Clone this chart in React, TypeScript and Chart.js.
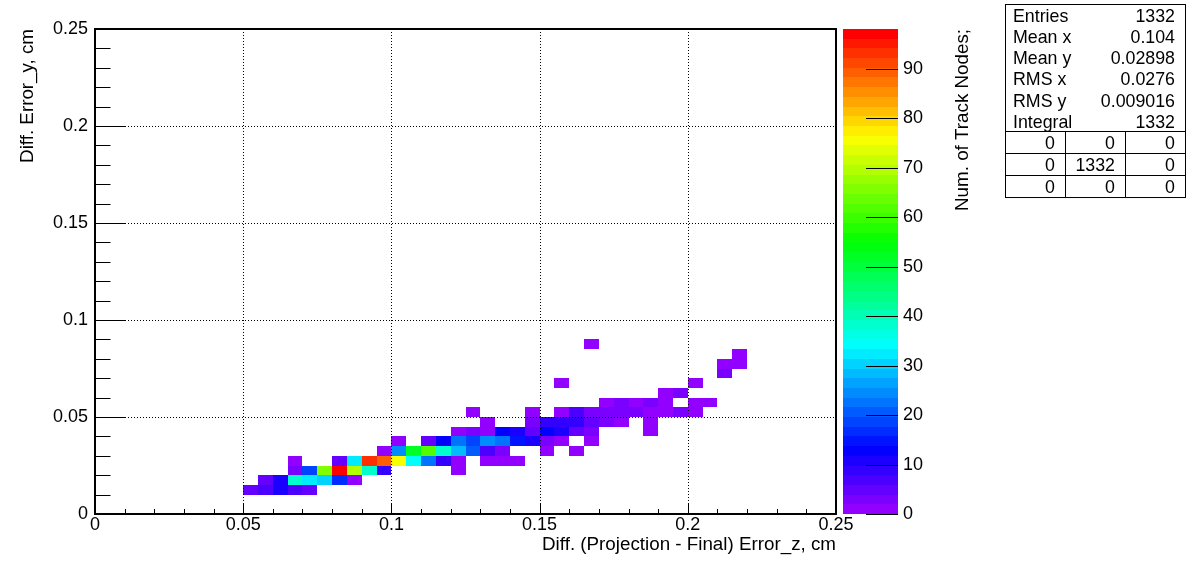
import React, { useEffect, useRef } from 'react';
import { Chart, registerables } from 'chart.js';

Chart.register(...registerables);

const W = 1196;
const H = 572;
const FONT = '"Liberation Sans", Arial, Helvetica, sans-serif';

// ---- histogram binning / axes ----
const binWidthX = 0.005;
const binWidthY = 0.005;
const xMin = 0;
const xMax = 0.25;
const yMin = 0;
const yMax = 0.25;
const xTicks = [0, 0.05, 0.1, 0.15, 0.2, 0.25];
const xTickLabels = ['0', '0.05', '0.1', '0.15', '0.2', '0.25'];
const yTicks = [0, 0.05, 0.1, 0.15, 0.2, 0.25];
const yTickLabels = ['0', '0.05', '0.1', '0.15', '0.2', '0.25'];
const minorStep = 0.01;
const zMax = 98;
const zTicks = [0, 10, 20, 30, 40, 50, 60, 70, 80, 90];
const zTickLabels = ['0', '10', '20', '30', '40', '50', '60', '70', '80', '90'];

const xTitle = 'Diff. (Projection - Final) Error_z, cm';
const yTitle = 'Diff. Error_y, cm';
const zTitle = 'Num. of Track Nodes;';

// ---- bin contents: one entry per y-bin row ----
const rowBins = [2, 3, 4, 5, 6, 7, 8, 9, 10, 11, 12, 13, 14, 15, 16, 17];
const rowStart = [10, 11, 13, 13, 19, 20, 24, 26, 25, 34, 38, 31, 42, 42, 43, 33];
const rowCounts = [
  [4, 7, 10, 7, 4],
  [4, 10, 38, 32, 30, 17, 1],
  [2, 18, 66, 98, 70, 38, 8, 0, 0, 0, 0, 1],
  [1, 0, 0, 4, 32, 93, 89, 75, 34, 22, 8, 1, 0, 1, 1, 1],
  [1, 24, 52, 62, 38, 28, 20, 7, 2, 0, 0, 1, 0, 1],
  [1, 0, 4, 13, 22, 19, 24, 22, 15, 11, 2, 1, 0, 1],
  [1, 2, 1, 13, 10, 5, 12, 10, 5, 2, 0, 0, 0, 1],
  [1, 0, 0, 2, 8, 8, 8, 4, 3, 1, 0, 1],
  [1, 0, 0, 0, 1, 0, 1, 6, 3, 2, 2, 2, 1, 1, 2, 1],
  [1, 2, 1, 2, 1, 0, 1, 1],
  [1, 2],
  [1, 0, 0, 0, 0, 0, 0, 0, 0, 1],
  [2],
  [1, 1],
  [1],
  [1],
];

// ---- stats box ----
const statsLabels = ['Entries', 'Mean x', 'Mean y', 'RMS x', 'RMS y', 'Integral'];
const statsValues = ['1332', '0.104', '0.02898', '0.0276', '0.009016', '1332'];
const statsTable = [
  ['0', '0', '0'],
  ['0', '1332', '0'],
  ['0', '0', '0'],
];

// ROOT "pretty" palette (violet -> red), HLS with l=0.5, s=1
function hlsToRgb(h: number, l: number, s: number): string {
  const rm2 = l <= 0.5 ? l * (1 + s) : l + s - l * s;
  const rm1 = 2 * l - rm2;
  const f = (hue: number) => {
    if (hue > 360) hue -= 360;
    if (hue < 0) hue += 360;
    if (hue < 60) return rm1 + (rm2 - rm1) * hue / 60;
    if (hue < 180) return rm2;
    if (hue < 240) return rm1 + (rm2 - rm1) * (240 - hue) / 60;
    return rm1;
  };
  const r = Math.round(f(h + 120) * 255);
  const g = Math.round(f(h) * 255);
  const b = Math.round(f(h - 120) * 255);
  return `rgb(${r},${g},${b})`;
}
const NCOL = 50;
const palette: string[] = [];
for (let k = 0; k < NCOL - 1; k++) palette.push(hlsToRgb(280 - (k + 1) * (280 / NCOL), 0.5, 1));
palette.push('rgb(255,0,0)');

function colorFor(z: number): string {
  let idx = Math.floor(0.01 + (z * NCOL) / zMax);
  if (idx > NCOL - 1) idx = NCOL - 1;
  if (idx < 0) idx = 0;
  return palette[idx];
}

const histPlugin = {
  id: 'hist2d',
  beforeDatasetsDraw(chart: any) {
    const { ctx, chartArea } = chart;
    const x = chart.scales.x;
    const y = chart.scales.y;
    ctx.save();
    // cells
    rowBins.forEach((j, r) => {
      const py0 = Math.round(y.getPixelForValue(j * binWidthY));
      const py1 = Math.round(y.getPixelForValue((j + 1) * binWidthY));
      rowCounts[r].forEach((c, k) => {
        if (c <= 0) return;
        const i = rowStart[r] + k;
        const px0 = Math.round(x.getPixelForValue(i * binWidthX));
        const px1 = Math.round(x.getPixelForValue((i + 1) * binWidthX));
        ctx.fillStyle = colorFor(c);
        ctx.fillRect(px0, py1, px1 - px0, py0 - py1);
      });
    });
    // dotted grid
    ctx.strokeStyle = '#000';
    ctx.lineWidth = 1;
    ctx.setLineDash([1, 2]);
    xTicks.slice(1, -1).forEach((v) => {
      const px = Math.round(x.getPixelForValue(v)) + 0.5;
      ctx.beginPath();
      ctx.moveTo(px, chartArea.top);
      ctx.lineTo(px, chartArea.bottom);
      ctx.stroke();
    });
    yTicks.slice(1, -1).forEach((v) => {
      const py = Math.round(y.getPixelForValue(v)) + 0.5;
      ctx.beginPath();
      ctx.moveTo(chartArea.left, py);
      ctx.lineTo(chartArea.right, py);
      ctx.stroke();
    });
    ctx.setLineDash([]);
    // tick marks (inside frame)
    const nMinor = Math.round((xMax - xMin) / minorStep);
    for (let m = 0; m <= nMinor; m++) {
      const v = xMin + m * minorStep;
      const major = m % 5 === 0;
      const px = Math.round(x.getPixelForValue(v)) + 0.5;
      ctx.beginPath();
      ctx.moveTo(px, chartArea.bottom);
      ctx.lineTo(px, chartArea.bottom - (major ? 10 : 5));
      ctx.stroke();
    }
    const nMinorY = Math.round((yMax - yMin) / minorStep);
    for (let m = 0; m <= nMinorY; m++) {
      const v = yMin + m * minorStep;
      const major = m % 5 === 0;
      const py = Math.round(y.getPixelForValue(v)) + 0.5;
      ctx.beginPath();
      ctx.moveTo(chartArea.left, py);
      ctx.lineTo(chartArea.left + (major ? 31 : 15.5), py);
      ctx.stroke();
    }
    // frame
    ctx.lineWidth = 2;
    ctx.strokeRect(chartArea.left, chartArea.top, chartArea.right - chartArea.left, chartArea.bottom - chartArea.top);
    ctx.restore();
  },
  afterDraw(chart: any) {
    const { ctx, chartArea } = chart;
    const z = chart.scales.z;
    ctx.save();
    // colour bar
    const barLeft = chartArea.right + 7;
    const barRight = barLeft + 55;
    for (let k = 0; k < NCOL; k++) {
      const p0 = Math.round(z.getPixelForValue((k * zMax) / NCOL));
      const p1 = Math.round(z.getPixelForValue(((k + 1) * zMax) / NCOL));
      ctx.fillStyle = palette[k];
      ctx.fillRect(barLeft, p1, barRight - barLeft, p0 - p1);
    }
    ctx.strokeStyle = '#000';
    ctx.lineWidth = 1;
    ctx.fillStyle = '#000';
    ctx.font = `18px ${FONT}`;
    ctx.textAlign = 'left';
    ctx.textBaseline = 'middle';
    zTicks.forEach((v, i) => {
      const py = Math.round(z.getPixelForValue(v)) + 0.5;
      ctx.beginPath();
      ctx.moveTo(barRight - 32, py);
      ctx.lineTo(barRight, py);
      ctx.stroke();
      ctx.fillText(zTickLabels[i], barRight + 5, py);
    });
    // z title
    ctx.save();
    ctx.translate(barRight + 65, chartArea.top);
    ctx.rotate(-Math.PI / 2);
    ctx.font = `18.8px ${FONT}`;
    ctx.textAlign = 'right';
    ctx.textBaseline = 'middle';
    ctx.fillText(zTitle, 0, 0);
    ctx.restore();

    // stats box
    const bx = 1005;
    const by = 4;
    const bw = 180;
    const rowH = 21.17;
    const tabTop = by + rowH * statsLabels.length;
    const tabRowH = 22;
    const bh = tabTop - by + tabRowH * statsTable.length;
    ctx.fillStyle = '#fff';
    ctx.fillRect(bx, by, bw, bh);
    ctx.strokeStyle = '#000';
    ctx.lineWidth = 1;
    ctx.strokeRect(bx + 0.5, by + 0.5, bw, bh);
    ctx.fillStyle = '#000';
    ctx.font = `17.8px ${FONT}`;
    ctx.textBaseline = 'middle';
    statsLabels.forEach((lab, r) => {
      const cy = by + rowH * (r + 0.5) + 2.5;
      ctx.textAlign = 'left';
      ctx.fillText(lab, bx + 8, cy);
      ctx.textAlign = 'right';
      ctx.fillText(statsValues[r], bx + bw - 10, cy);
    });
    const colW = bw / 3;
    statsTable.forEach((row, r) => {
      const ly = Math.round(tabTop + r * tabRowH) + 0.5;
      ctx.beginPath();
      ctx.moveTo(bx, ly);
      ctx.lineTo(bx + bw, ly);
      ctx.stroke();
      row.forEach((val, c) => {
        ctx.textAlign = 'right';
        ctx.fillText(val, bx + colW * (c + 1) - 10, tabTop + tabRowH * (r + 0.5) + 2);
      });
    });
    for (let c = 1; c < 3; c++) {
      const lx = Math.round(bx + colW * c) + 0.5;
      ctx.beginPath();
      ctx.moveTo(lx, tabTop);
      ctx.lineTo(lx, by + bh);
      ctx.stroke();
    }
    ctx.restore();
  },
};

export default function App() {
  const ref = useRef<HTMLCanvasElement | null>(null);
  useEffect(() => {
    document.body.style.margin = '0';
    const canvas = ref.current;
    if (!canvas) return;
    const points: { x: number; y: number }[] = [];
    rowBins.forEach((j, r) => {
      rowCounts[r].forEach((c, k) => {
        if (c > 0) points.push({ x: (rowStart[r] + k + 0.5) * binWidthX, y: (j + 0.5) * binWidthY });
      });
    });
    const chart = new Chart(canvas, {
      type: 'scatter',
      data: {
        datasets: [{ data: points, pointRadius: 0, pointHoverRadius: 0, showLine: false }],
      },
      options: {
        responsive: false,
        animation: false,
        devicePixelRatio: 1,
        events: [],
        layout: { padding: { left: 0, top: 29, right: W - 836, bottom: 0 } },
        plugins: { legend: { display: false }, tooltip: { enabled: false } },
        scales: {
          x: {
            type: 'linear',
            position: 'bottom',
            min: xMin,
            max: xMax,
            afterFit: (s: any) => { s.height = 58; },
            afterBuildTicks: (s: any) => { s.ticks = xTicks.map((v) => ({ value: v })); },
            grid: { display: false, drawTicks: false },
            border: { display: false },
            ticks: {
              padding: 0,
              color: '#000',
              autoSkip: false,
              maxRotation: 0,
              font: { family: FONT, size: 18 },
              callback: (_v: any, i: number) => xTickLabels[i],
            },
            title: {
              display: true,
              text: xTitle,
              align: 'end',
              color: '#000',
              font: { family: FONT, size: 18.8 },
              padding: { top: 0, bottom: 16 },
            },
          },
          y: {
            type: 'linear',
            position: 'left',
            min: yMin,
            max: yMax,
            afterFit: (s: any) => { s.width = 95; },
            afterBuildTicks: (s: any) => { s.ticks = yTicks.map((v) => ({ value: v })); },
            grid: { display: false, drawTicks: false },
            border: { display: false },
            ticks: {
              padding: 7,
              color: '#000',
              autoSkip: false,
              font: { family: FONT, size: 18 },
              callback: (_v: any, i: number) => yTickLabels[i],
            },
            title: {
              display: true,
              text: yTitle,
              align: 'end',
              color: '#000',
              font: { family: FONT, size: 18.8 },
              padding: { top: 16.2, bottom: 0 },
            },
          },
          z: {
            type: 'linear',
            axis: 'y',
            position: 'right',
            display: false,
            min: 0,
            max: zMax,
          },
        },
      } as any,
      plugins: [histPlugin],
    });
    return () => chart.destroy();
  }, []);
  return (
    <div style={{ position: 'fixed', left: 0, top: 0, width: W, height: H, background: '#fff' }}>
      <canvas ref={ref} width={W} height={H} style={{ width: W, height: H, display: 'block' }} />
    </div>
  );
}
